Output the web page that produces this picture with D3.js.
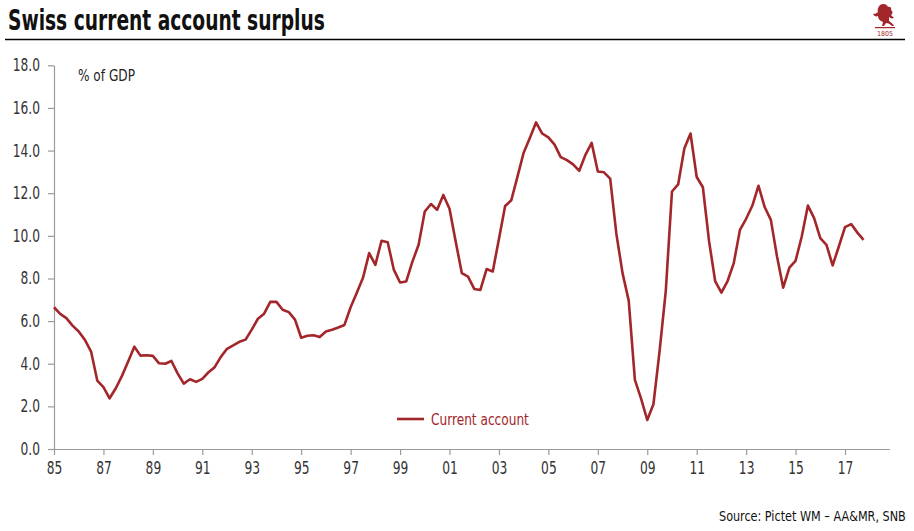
<!DOCTYPE html>
<html><head><meta charset="utf-8">
<script src="https://cdn.jsdelivr.net/npm/d3@7"></script>
<style>
body{margin:0;background:#fff;}
svg{display:block;}
text{font-family:"Liberation Sans Narrow","DejaVu Sans Condensed","DejaVu Sans",sans-serif;}
</style></head><body>
<svg id="chart" width="914" height="531"></svg>
<script>
// ---- data (quarterly, % of GDP) ----
const startYear = 1985;
const currentAccount = [
 6.65,6.34,6.14,5.79, 5.51,5.12,4.57,3.21, 2.90,2.38,2.85,3.43, 4.10,4.80,4.38,4.40,
 4.37,4.02,4.00,4.13, 3.55,3.07,3.27,3.15, 3.29,3.60,3.84,4.32, 4.70,4.86,5.03,5.13,
 5.60,6.11,6.35,6.90, 6.90,6.53,6.42,6.07, 5.22,5.31,5.34,5.25, 5.51,5.59,5.70,5.82,
 6.65,7.33,8.03,9.19, 8.64,9.77,9.70,8.40, 7.81,7.86,8.79,9.58, 11.14,11.49,11.22,11.92,
 11.27,9.73,8.25,8.09, 7.51,7.46,8.44,8.33, 9.85,11.40,11.67,12.78, 13.90,14.59,15.32,14.80,
 14.62,14.28,13.69,13.55, 13.35,13.05,13.80,14.36, 13.02,12.98,12.68,10.10, 8.25,6.96,3.24,2.36,
 1.36,2.10,4.60,7.42, 12.08,12.41,14.10,14.80, 12.76,12.28,9.75,7.86, 7.34,7.88,8.72,10.28,
 10.80,11.41,12.35,11.35, 10.75,9.03,7.57,8.51, 8.83,9.97,11.42,10.83, 9.89,9.58,8.61,9.50,
 10.41,10.55,10.15,9.81
];
const yTickValues = [0,2,4,6,8,10,12,14,16,18];
const xTickYears = [1985,1987,1989,1991,1993,1995,1997,1999,2001,2003,2005,2007,2009,2011,2013,2015,2017];
const seriesName = "Current account";
const titleText = "Swiss current account surplus";
const unitLabel = "% of GDP";
const sourceText = "Source: Pictet WM \u2013 AA&MR, SNB";
const logoYear = "1805";

// ---- styles ----
const red = "#a3262a";
const axisColor = "#9a9a9a";
const labelColor = "#333";

const svg = d3.select("#chart");

// squeeze text horizontally (via transform) to imitate the condensed face of the original
function placeFit(sel, x0, y0, w) {
  const L = sel.node().getComputedTextLength();
  sel.attr("x", 0).attr("y", 0)
     .attr("transform", `translate(${x0},${y0}) scale(${w / L},1)`);
}
function condense(sel, f) {
  sel.each(function () {
    const L = this.getComputedTextLength();
    d3.select(this).attr("textLength", L * f).attr("lengthAdjust", "spacingAndGlyphs");
  });
}

const x = d3.scaleLinear().domain([1985, 2018.8]).range([54, 889.5]);
const y = d3.scaleLinear().domain([0, 18]).range([449, 65.3]);

// title + rule
svg.append("text").attr("font-size", 29).attr("font-weight", "bold").attr("fill", "#111")
  .text(titleText).call(placeFit, 8, 30, 317);
svg.append("line").attr("x1", 5).attr("x2", 905).attr("y1", 39.5).attr("y2", 39.5)
  .attr("stroke", "#000").attr("stroke-width", 1.5);

// logo (simplified)
const logo = svg.append("g").attr("transform", "translate(872,3)");
logo.append("path").attr("fill", red)
  .attr("d", "M8,2 C11,0 15,1 16,4 C18,3 20,5 19,7 C21,8 21,11 19,12 L22,15 C20,16 18,15 17,14 L17,18 C19,19 21,21 22,23 L20,23 C18,21 16,20 14,20 L12,23 L10,23 L11,19 C8,18 6,16 6,13 C4,14 2,13 1,11 C3,11 5,10 6,9 C5,7 6,4 8,2 Z");
logo.append("rect").attr("x", 3).attr("y", 24).attr("width", 20).attr("height", 1.2).attr("fill", red);
logo.append("text").attr("x", 13).attr("y", 32.5).attr("text-anchor", "middle")
  .attr("font-size", 7).attr("fill", red).text(logoYear);

// axes
const yAxis = d3.axisLeft(y).tickValues(yTickValues).tickFormat(d3.format(".1f"))
  .tickSize(6).tickSizeOuter(0).tickPadding(8);
const gy = svg.append("g").attr("transform", "translate(54,0)").call(yAxis);

const xAxis = d3.axisBottom(x).tickValues(xTickYears).tickFormat(d => String(d).slice(2))
  .tickSize(6).tickSizeOuter(0).tickPadding(7);
const gx = svg.append("g").attr("transform", "translate(0,449)").call(xAxis);

[gy, gx].forEach(g => {
  g.select(".domain").attr("stroke", axisColor).attr("stroke-width", 1.2);
  g.selectAll(".tick line").attr("stroke", axisColor).attr("stroke-width", 1.2);
  g.selectAll(".tick text").attr("fill", labelColor).attr("font-size", 17)
    .attr("font-family", '"Liberation Sans Narrow","DejaVu Sans Condensed","DejaVu Sans",sans-serif')
    .call(condense, 0.8);
});

// unit label
svg.append("text").attr("font-size", 16).attr("fill", "#222")
  .text(unitLabel).call(placeFit, 78, 81, 57);

// line
const line = d3.line()
  .x((d, i) => x(startYear + i / 4))
  .y(d => y(d));
svg.append("path").datum(currentAccount)
  .attr("fill", "none").attr("stroke", red).attr("stroke-width", 2.6)
  .attr("stroke-linejoin", "round").attr("d", line);

// legend
svg.append("line").attr("x1", 397).attr("x2", 424).attr("y1", 419).attr("y2", 419)
  .attr("stroke", red).attr("stroke-width", 2.6);
svg.append("text").attr("font-size", 16).attr("fill", red)
  .text(seriesName).call(placeFit, 431, 425, 98);

// source
svg.append("text").attr("font-size", 14).attr("fill", "#111")
  .text(sourceText).call(placeFit, 719, 521, 187);
</script>
</body></html>
